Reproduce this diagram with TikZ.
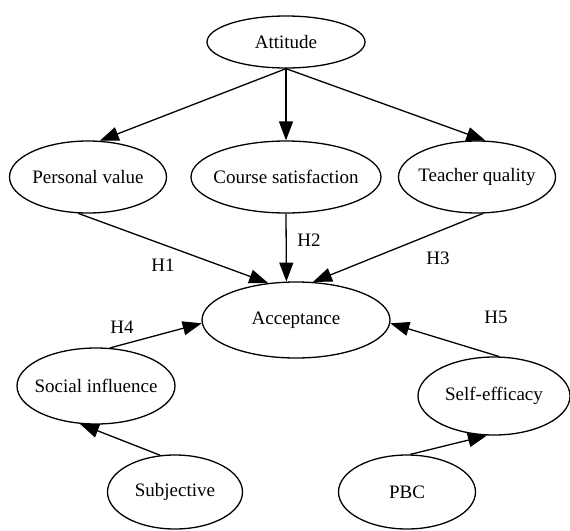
\documentclass[tikz,border=0pt]{standalone}
\usepackage{fontspec}
\setmainfont{Liberation Serif}
\newfontfamily\tnrfont{Liberation Serif}
\usetikzlibrary{shapes.geometric,arrows.meta}
\tikzset{
  ell/.style={draw, line width=1.3pt, ellipse, inner sep=0pt, font=\tnrfont\fontsize{19}{22}\selectfont},
  conn/.style={line width=1.3pt, -{Triangle[length=19pt,width=14pt]}},
  hlab/.style={inner sep=0pt, font=\tnrfont\fontsize{19}{22}\selectfont}
}
\newcommand{\zt}[1]{\makebox[0pt]{#1}}
\begin{document}
\begin{tikzpicture}[x=1pt,y=-1pt]
\useasboundingbox (0,0) rectangle (570,530);
\node[ell, minimum width=158pt, minimum height=52pt] (att) at (286,42) {\zt{Attitude}};
\node[ell, minimum width=157pt, minimum height=72pt] (pv) at (88,177) {\zt{Personal value}};
\node[ell, minimum width=190pt, minimum height=72pt] (cs) at (286,177) {\zt{Course satisfaction}};
\node[ell, minimum width=157pt, minimum height=72pt] (tq) at (477,177) {\zt{Teacher quality}};
\node[ell, minimum width=188pt, minimum height=76pt] (acc) at (296,320) {\zt{Acceptance}};
\node[ell, minimum width=158pt, minimum height=76pt] (si) at (96,386) {\zt{Social influence}};
\node[ell, minimum width=152pt, minimum height=78pt] (se) at (494,396) {\zt{Self-efficacy}};
\node[ell, minimum width=135pt, minimum height=74pt] (sub) at (175,492) {\zt{Subjective}};
\node[ell, minimum width=137pt, minimum height=74pt] (pbc) at (407,492) {\zt{PBC}};
\draw[conn] (att.south) -- (pv.72);
\draw[conn] (att.south) -- (cs.north);
\draw[conn] (att.south) -- (tq.77);
\draw[conn] (pv.255) -- (acc.127);
\draw[conn] (cs.south) -- (acc.104);
\draw[conn] (tq.279) -- (acc.66);
\draw[conn] (si.70) -- (acc.182);
\draw[conn] (se.83) -- (acc.358);
\draw[conn] (sub.112) -- (si.247);
\draw[conn] (pbc.85) -- (se.260);
\node[hlab] (h1) at (163,265) {H1};
\node[hlab] (h2) at (309,240) {H2};
\node[hlab] (h3) at (438,258) {H3};
\node[hlab] (h4) at (122,327) {H4};
\node[hlab] (h5) at (496,317) {H5};
\end{tikzpicture}
\end{document}
